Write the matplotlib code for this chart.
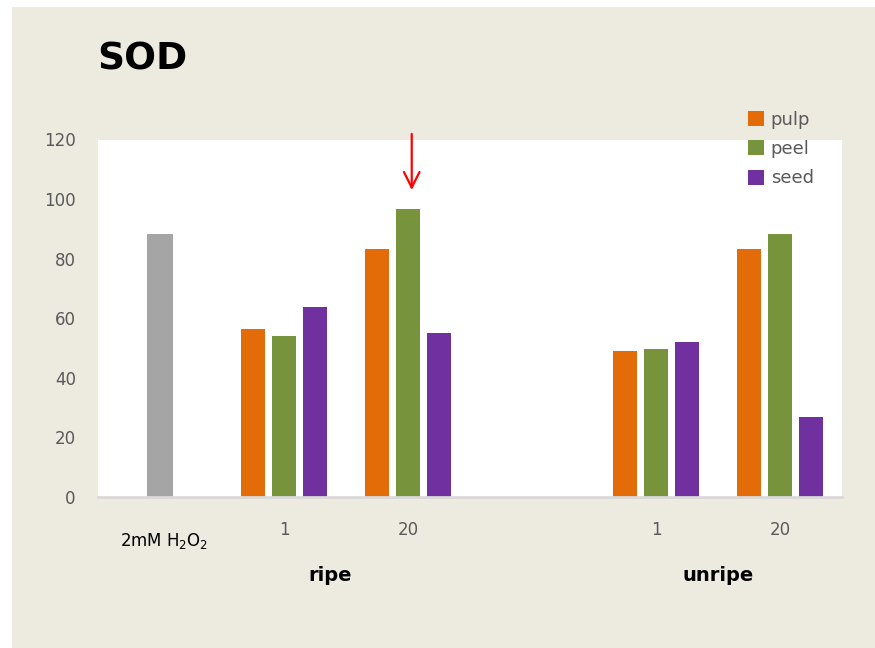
import matplotlib
matplotlib.use("Agg")
import matplotlib.pyplot as plt
from matplotlib.patches import Rectangle
import numpy as np

# SOD activity per extract
categories = ["2mM H$_2$O$_2$", "1", "20", "", "1", "20"]
control = 88.4
pulp = [56.4, 83.3, 49.1, 83.3]
peel = [54.2, 96.7, 49.6, 88.4]
seed = [63.9, 54.9, 51.9, 26.7]
series_names = ["pulp", "peel", "seed"]
series_colors = ["#E36C09", "#77933C", "#7030A0"]
group_labels = ["ripe", "unripe"]

bg = "#EDEAE0"
txt = "#595959"

fig = plt.figure(figsize=(8.75, 6.48), dpi=100)
fig.patch.set_facecolor("white")
fig.add_artist(Rectangle((12 / 875, 0), 1, 1 - 7 / 648, transform=fig.transFigure,
                         facecolor=bg, edgecolor="none", zorder=0))

ax = fig.add_axes([98 / 875, 1 - 497 / 648, (842 - 98) / 875, (497 - 139.5) / 648])
ax.set_facecolor("white")

x = np.arange(len(categories))
xs = x[[1, 2, 4, 5]]
w = 0.2
off = 0.25
ax.bar(0, control, width=0.215, color="#A5A5A5", zorder=2)
for i, (vals, name, col) in enumerate(zip([pulp, peel, seed], series_names, series_colors)):
    ax.bar(xs + (i - 1) * off, vals, width=w, color=col, label=name, zorder=2)

ax.set_xlim(-0.5, 5.5)
ax.set_ylim(0, 120)
ax.set_yticks(range(0, 121, 20))
ax.tick_params(axis="y", length=0, pad=16, labelsize=12, labelcolor=txt)
ax.set_xticks([])
for s in ["top", "right", "left"]:
    ax.spines[s].set_visible(False)
ax.spines["bottom"].set_color("#D9D9D9")
ax.spines["bottom"].set_linewidth(2)

# category labels under the axis
for xi, lab in zip(x, categories):
    if xi == 0:
        ax.text(xi + 0.03, -14.8, lab, ha="center", va="center", fontsize=12,
                color="black", clip_on=False)
    elif lab:
        ax.text(xi, -11.2, lab, ha="center", va="center", fontsize=12,
                color=txt, clip_on=False)
ax.text(1.37, -26.5, group_labels[0], ha="center", va="center", fontsize=14,
        fontweight="bold", clip_on=False)
ax.text(4.5, -26.5, group_labels[1], ha="center", va="center", fontsize=14,
        fontweight="bold", clip_on=False)

# arrow pointing at the ripe/20 peel bar
ax.annotate("", xy=(2.03, peel[1] + 5.4), xytext=(2.03, peel[1] + 26.1),
            arrowprops=dict(arrowstyle="->", color="red", lw=1.6,
                            mutation_scale=28), annotation_clip=False)

fig.text(97 / 875, 1 - 60 / 648, "SOD", fontsize=27, fontweight="bold",
         ha="left", va="center")

fig.legend(loc="upper left", bbox_to_anchor=(748 / 875, 1 - 111 / 648),
           frameon=False, fontsize=13, handlelength=0.9, handleheight=0.9,
           handletextpad=0.35, labelspacing=0.62, borderpad=0, borderaxespad=0,
           labelcolor=txt)

fig.savefig("out.png", dpi=100, facecolor=fig.get_facecolor())
